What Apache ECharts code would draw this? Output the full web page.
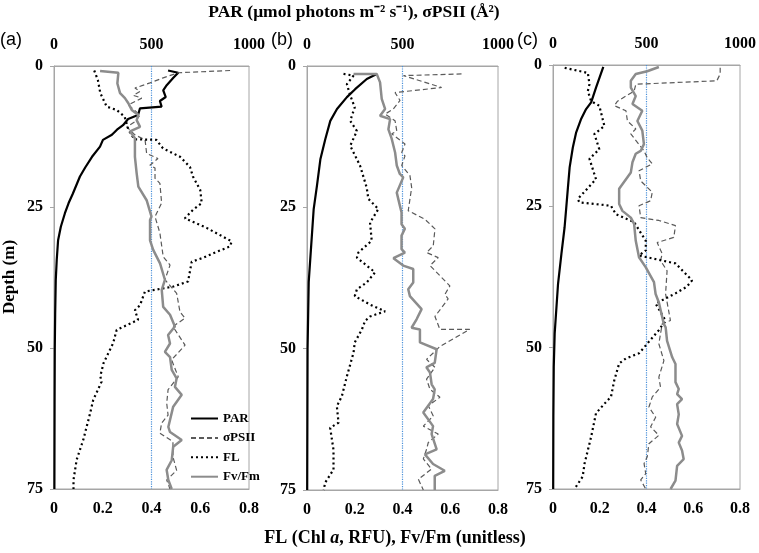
<!DOCTYPE html>
<html lang="en">
<head>
<meta charset="UTF-8">
<title>Depth profiles</title>
<script src="https://cdn.jsdelivr.net/npm/echarts@6/dist/echarts.min.js"></script>
</head>
<body style="margin:0;background:#fff">
<div id="chart" style="width:759px;height:553px;"></div>
<script>
// [value, depth] pairs
// PAR & sigmaPSII use the top axis (0-1000), FL & Fv/Fm the bottom axis (0-0.8)
var parA = [[585,0.8],[637,1.2],[612,2.1],[578,3.4],[560,4.3],[573,5.5],[543,6.2],[552,7.2],[441,7.5],[431,8.7],[380,9.4],[354,10.5],[323,11.3],[297,12.2],[251,13.1],[236,14.3],[195,16.1],[160,18],[133,19.6],[97,22.6],[75,24.3],[56,26.1],[35,28.5],[21,30.9],[14,34.4],[9,38],[6,44],[4,50],[3,60],[2,75]];
var sigA = [[903,0.8],[637,1.2],[560,2.1],[492,3],[415,3.9],[441,4.5],[407,5.2],[450,5.7],[381,6.9],[441,8.7],[415,9.9],[373,10.8],[415,12.2],[467,13.1],[475,15.5],[533,16.4],[492,17.6],[518,18.1],[518,19.9],[543,20.8],[552,24.3],[518,26.7],[543,29.6],[560,33.8],[595,35.3],[569,37.9],[629,40.3],[646,43.6],[672,44.7],[610,46.2],[672,49.5],[603,52.1],[637,55.1],[585,57.4],[578,59.8],[585,61.9],[552,63.3],[543,65.1],[610,66.6],[610,69.3],[629,71.7],[578,73.4],[595,75]];
var flA = [[0.165,0.8],[0.18,2.5],[0.19,4.8],[0.216,7.2],[0.257,7.8],[0.29,9],[0.305,11.3],[0.33,13],[0.42,13.1],[0.447,14.6],[0.517,16.1],[0.558,17.9],[0.57,19.6],[0.6,22],[0.606,24.3],[0.57,25.5],[0.537,27],[0.626,28.7],[0.729,31.1],[0.722,32],[0.653,33.2],[0.612,34],[0.565,34.7],[0.55,38.2],[0.49,39.1],[0.373,40],[0.353,42.4],[0.332,43.3],[0.345,45],[0.257,46.8],[0.243,49.1],[0.203,52.7],[0.19,55],[0.195,56],[0.161,59.2],[0.148,61.6],[0.12,66.3],[0.093,69.8],[0.08,73.4],[0.08,75]];
var fvA = [[0.189,0.9],[0.264,1.2],[0.26,3.1],[0.271,4.8],[0.291,5.7],[0.305,6.6],[0.319,7.8],[0.346,8.7],[0.339,9.6],[0.353,10.8],[0.312,11.6],[0.332,12.8],[0.332,16.1],[0.339,19],[0.346,21.4],[0.38,23.8],[0.4,26.7],[0.394,27.3],[0.394,30.9],[0.407,32.6],[0.435,35],[0.455,37.9],[0.442,39.7],[0.448,42.7],[0.476,44.1],[0.496,46.2],[0.468,47.7],[0.476,49.2],[0.455,50.7],[0.476,51.6],[0.483,53.9],[0.503,55.4],[0.496,56.9],[0.524,58.3],[0.489,60.4],[0.469,64],[0.476,64.9],[0.524,66.3],[0.489,67.5],[0.483,69.9],[0.462,71.6],[0.469,73.4],[0.483,75]];

var parB = [[365,1.4],[313,2.3],[252,4.1],[209,5.5],[157,7.6],[122,9.7],[96,12.9],[70,16.5],[52,21.2],[35,25.3],[17,34.2],[9,38.2],[3,50],[1,75]];
var sigB = [[809,1.4],[505,1.7],[705,3.8],[461,4.7],[487,6.1],[452,7.6],[409,8.5],[461,9.7],[470,11.5],[444,12],[513,13.8],[496,15.3],[513,15.9],[496,17.6],[539,19.4],[548,21.5],[530,25.6],[617,27.1],[670,28.8],[661,31.8],[626,33],[687,33.9],[644,35.3],[748,38.9],[722,40.4],[739,41.2],[670,44.3],[696,46.6],[852,46.6],[696,49.6],[626,51.9],[670,53.3],[626,55.4],[644,57.2],[696,58.6],[635,60.1],[661,61.9],[609,63.7],[687,65.1],[635,66.6],[626,67.8],[609,69.5],[652,71.3],[583,73.1],[609,75]];
var flB = [[0.153,1.4],[0.195,1.7],[0.167,3.2],[0.181,5.2],[0.2,7.3],[0.181,9.7],[0.209,11.5],[0.181,14.1],[0.222,17.6],[0.25,21.5],[0.257,23.5],[0.299,25.3],[0.264,27.7],[0.271,30.9],[0.215,33],[0.209,33.9],[0.285,36.5],[0.25,38.3],[0.209,39.5],[0.2,40.7],[0.264,42.2],[0.327,43.4],[0.264,44.3],[0.243,45.1],[0.23,46.6],[0.2,48.9],[0.195,50.7],[0.167,54.9],[0.146,58.4],[0.125,60.2],[0.132,63.1],[0.097,64],[0.111,67.9],[0.111,71.4],[0.076,73.7],[0.07,75]];
var fvB = [[0.195,1.4],[0.292,1.4],[0.306,2.9],[0.313,5.8],[0.327,7.6],[0.306,8.8],[0.348,9.4],[0.341,11.2],[0.355,12.9],[0.369,15.3],[0.376,17.6],[0.389,19.1],[0.403,19.7],[0.376,22.4],[0.389,24.7],[0.396,25.9],[0.396,28],[0.41,28.8],[0.396,30],[0.396,32.4],[0.41,33],[0.362,34],[0.403,35.3],[0.445,35.9],[0.445,38.3],[0.424,39.5],[0.431,40.7],[0.48,43],[0.459,44.8],[0.438,46.3],[0.473,46.6],[0.473,48.9],[0.543,50.1],[0.535,52.5],[0.5,53.3],[0.515,54.2],[0.522,56.3],[0.535,57.2],[0.528,58.9],[0.487,61.3],[0.528,63.7],[0.522,65.1],[0.543,67.8],[0.494,68.7],[0.528,70.4],[0.577,71.6],[0.535,72.5],[0.535,75]];

var parC = [[269,0.35],[230,4],[204,6.6],[177,7.8],[151,9.5],[124,11.9],[106,14.6],[89,18.1],[80,21.6],[71,25.2],[62,28.7],[45,33.4],[27,38.7],[9,47.5],[4,53.4],[2,62],[1,75]];
var sigC = [[894,0.5],[894,1.6],[876,2.8],[443,3.4],[434,4.6],[345,6.4],[328,7.2],[390,8.1],[398,9.9],[443,11.3],[416,12.2],[487,15.2],[504,16.4],[531,17.5],[460,18.7],[469,20.5],[531,22.5],[522,24],[460,24.9],[469,27],[566,27.5],[655,28.4],[646,30.5],[557,31.4],[584,33.4],[575,34.6],[610,36.4],[602,40.5],[628,45.2],[584,45.8],[566,49.3],[593,52.3],[566,55.2],[575,57],[531,58.7],[513,60.5],[549,62.3],[522,64],[566,65.5],[513,67],[504,69.3],[487,70.5],[496,72.3],[469,73.4],[496,75]];
var flC = [[0.05,0.5],[0.149,1.4],[0.156,3.4],[0.149,4.6],[0.163,6.4],[0.198,7.2],[0.22,10.8],[0.177,12.2],[0.198,14.9],[0.156,16.6],[0.184,20.2],[0.106,23.7],[0.113,24.3],[0.248,24.9],[0.269,26.4],[0.347,27.8],[0.397,31.1],[0.397,32.8],[0.368,33.7],[0.524,35.1],[0.595,38.1],[0.573,39.2],[0.524,40.4],[0.439,42.2],[0.481,45.2],[0.453,46.9],[0.403,49.3],[0.368,51],[0.312,51.9],[0.283,52.8],[0.262,55.8],[0.248,58.7],[0.227,59.6],[0.184,61.6],[0.163,65.8],[0.135,70.5],[0.127,72.8],[0.092,75]];
var fvC = [[0.453,0.35],[0.403,1.1],[0.354,1.6],[0.333,2.8],[0.333,4],[0.354,5.5],[0.34,6.9],[0.382,8.1],[0.361,9.9],[0.382,11.6],[0.389,14],[0.375,15.2],[0.354,15.7],[0.34,17.2],[0.333,19],[0.283,21.9],[0.283,24.6],[0.297,25.8],[0.333,27],[0.347,28.1],[0.354,31.1],[0.368,34],[0.397,35.8],[0.432,38.4],[0.439,40.5],[0.453,42],[0.474,45.8],[0.482,46.4],[0.488,48.8],[0.51,51.7],[0.524,52.9],[0.524,56.1],[0.538,57.3],[0.531,58.2],[0.552,59.1],[0.531,60],[0.538,61.8],[0.531,63.5],[0.552,65.6],[0.538,66.8],[0.552,68.2],[0.559,69.7],[0.531,70.9],[0.524,73.5],[0.503,75]];

var panelLabels = ['(a)', '(b)', '(c)'];
var refLine = 0.4;        // vertical reference on the Fv/Fm axis
var depthRange = [0, 75];
var panels = [[parA, sigA, flA, fvA], [parB, sigB, flB, fvB], [parC, sigC, flC, fvC]];

var serif = 'Liberation Serif';
var axisGrey = '#a6a6a6';
var grids = [
  {left: 54, top: 66, width: 195, height: 423},
  {left: 307, top: 66, width: 191, height: 424},
  {left: 553, top: 65, width: 189, height: 424}
];

var xAxes = [], yAxes = [], series = [];
grids.forEach(function (g, i) {
  g.show = true;
  g.borderColor = axisGrey;
  g.borderWidth = 1;
  var lbl = {fontFamily: serif, fontWeight: 'bold', fontSize: 16, color: '#000'};
  xAxes.push({
    type: 'value', gridIndex: i, position: 'top', min: 0, max: 1000, interval: 500,
    axisLine: {lineStyle: {color: axisGrey}}, axisTick: {show: false},
    splitLine: {show: false},
    axisLabel: Object.assign({margin: 13, formatter: function (v) { return String(v); }}, lbl)
  });
  xAxes.push({
    type: 'value', gridIndex: i, position: 'bottom', min: 0, max: 0.8, interval: 0.2,
    axisLine: {lineStyle: {color: axisGrey}}, axisTick: {show: false},
    splitLine: {show: false},
    axisLabel: Object.assign({margin: 12, formatter: function (v) { return v === 0 ? '0' : v.toFixed(1); }}, lbl)
  });
  yAxes.push({
    type: 'value', gridIndex: i, inverse: true, min: 0, max: 75, interval: 25,
    axisLine: {show: true, lineStyle: {color: axisGrey}},
    axisTick: {show: true, length: 4, lineStyle: {color: axisGrey}},
    splitLine: {show: false}, axisLabel: Object.assign({margin: 11}, lbl)
  });
  var d = panels[i];
  // blue dotted reference line at Fv/Fm = 0.4
  series.push({
    name: 'ref', type: 'line', xAxisIndex: i * 2 + 1, yAxisIndex: i, silent: true,
    data: [[refLine, depthRange[0]], [refLine, depthRange[1]]],
    symbol: 'none', lineStyle: {color: '#4a90d9', width: 1.2, type: 'dotted'}, z: 3
  });
  series.push({
    name: 'PAR', type: 'line', xAxisIndex: i * 2, yAxisIndex: i, data: d[0],
    symbol: 'none', lineStyle: {color: '#000', width: 2.2}, itemStyle: {color: '#000'}
  });
  series.push({
    name: 'σPSII', type: 'line', xAxisIndex: i * 2, yAxisIndex: i, data: d[1],
    symbol: 'none', lineStyle: {color: '#5a5a5a', width: 1.2, type: [5, 3]}, itemStyle: {color: '#5a5a5a'}
  });
  series.push({
    name: 'FL', type: 'line', xAxisIndex: i * 2 + 1, yAxisIndex: i, data: d[2],
    symbol: 'none', lineStyle: {color: '#000', width: 2.2, type: [2, 3]}, itemStyle: {color: '#000'}
  });
  series.push({
    name: 'Fv/Fm', type: 'line', xAxisIndex: i * 2 + 1, yAxisIndex: i, data: d[3],
    symbol: 'none', lineStyle: {color: '#8c8c8c', width: 2.5}, itemStyle: {color: '#8c8c8c'}
  });
});

var labelX = [0, 271, 517];
var graphics = panelLabels.map(function (t, i) {
  return {type: 'text', x: labelX[i], y: 40,
    style: {text: t, font: '18px "Liberation Sans"', fill: '#000', textVerticalAlign: 'middle'}};
});
graphics.push({type: 'text', x: 354, y: 12,
  style: {text: 'PAR (μmol photons m⁻² s⁻¹), σPSII (Å²)', font: 'bold 17.5px "Liberation Serif"',
    fill: '#000', textAlign: 'center', textVerticalAlign: 'middle'}});
graphics.push({type: 'text', x: 395, y: 538,
  style: {text: '{b|FL (Chl }{i|a}{b|, RFU), Fv/Fm (unitless)}', textAlign: 'center', textVerticalAlign: 'middle',
    rich: {
      b: {fontFamily: serif, fontWeight: 'bold', fontSize: 18, fill: '#000'},
      i: {fontFamily: serif, fontWeight: 'bold', fontStyle: 'italic', fontSize: 18, fill: '#000'}
    }}});
graphics.push({type: 'text', x: 10, y: 277, rotation: Math.PI / 2,
  style: {text: 'Depth (m)', font: 'bold 17px "Liberation Serif"', fill: '#000',
    textAlign: 'center', textVerticalAlign: 'middle'}});

var myChart = echarts.init(document.getElementById('chart'));
var option = {
  animation: false,
  backgroundColor: '#fff',
  grid: grids,
  xAxis: xAxes,
  yAxis: yAxes,
  legend: {
    data: ['PAR', 'σPSII', 'FL', 'Fv/Fm'],
    orient: 'vertical', left: 185, top: 407,
    itemWidth: 27, itemHeight: 14, itemGap: 6.4,
    itemStyle: {opacity: 0},
    textStyle: {fontFamily: serif, fontWeight: 'bold', fontSize: 13, color: '#000'},
    selectedMode: false
  },
  graphic: graphics,
  series: series
};
myChart.setOption(option);
</script>
</body>
</html>
